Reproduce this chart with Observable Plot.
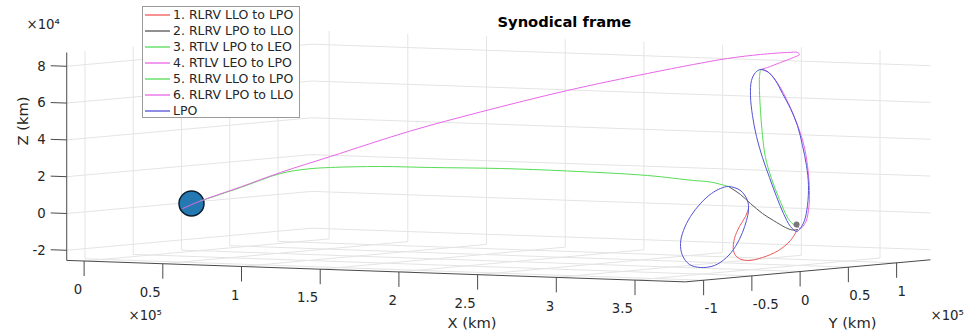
<!DOCTYPE html>
<html><head><meta charset="utf-8">
<script src="https://cdn.jsdelivr.net/npm/d3@7"></script>
<script src="https://cdn.jsdelivr.net/npm/@observablehq/plot@0.6"></script>
<style>
body{margin:0;background:#fff;}
#wrap{position:relative;width:968px;height:330px;font-family:"DejaVu Sans",sans-serif;}
#legend{position:absolute;left:142px;top:6px;width:158px;height:112px;border:1px solid #9a9a9a;background:#fff;box-sizing:border-box;}
.row{position:relative;height:16px;line-height:16px;font-size:12.5px;color:#262626;white-space:nowrap;padding-left:30px;}
.sw{position:absolute;left:2px;top:7px;width:25px;height:2px;opacity:0.65;}
</style></head>
<body><div id="wrap"><div id="chart"></div><div id="legend"></div></div>
<script>
// ---------- data (km, synodic frame) ----------
const legendLabels = ["1. RLRV LLO to LPO","2. RLRV LPO to LLO","3. RTLV LPO to LEO","4. RTLV LEO to LPO","5. RLRV LLO to LPO","6. RLRV LPO to LLO","LPO"];
const seriesColors = ["#f25757","#555555","#55dd55","#e866e8","#55dd55","#e866e8","#5252d6"];

const earthCenter = [-4671, 0, 0];
const moonCenter = [379729, 0, 0];

const traj1 = [[380322,0,-2707],[375875,0,-8821],[368251,0,-14479],[358086,0,-18588],[348556,0,-20501],[342202,0,-19060],[339661,0,-15327],[340296,0,-8788],[343473,0,-2174],[347285,0,3375],[349191,0,7783]];
const traj2 = [[336485,0,19360],[344108,0,15240],[350462,0,10533],[358086,0,5326],[365074,0,1728],[372698,0,-1848],[377146,0,-3076],[380322,0,-2707]];
const traj3 = [[336485,0,19360],[325051,0,21468],[314251,0,21963],[285027,0,23811],[234203,0,24751],[191638,0,24843],[147166,0,24072],[115400,0,23669],[83637,0,22186],[69025,0,20936],[51872,0,17979],[26460,0,9615],[1048,0,1527]];
const traj4 = [[-6671,-5800,-2500],[1048,0,1527],[24008,4000,9626],[46352,9000,17936],[74438,15000,27175],[118522,26000,41828],[156862,36000,52818],[204160,49000,65296],[247017,62000,75193],[271337,70000,80422],[288642,77000,83867],[305319,84000,86205],[318793,90000,87411],[323920,92000,87471],[326417,90000,86547],[331798,75000,85786],[338869,50000,84460],[347776,22000,83335],[356815,0,83553]];
const traj5 = [[380322,0,-1620],[375240,0,2033],[368886,0,13256],[363803,0,24517],[359992,0,35822],[358086,0,47719],[356815,0,61269],[356180,0,72122],[356180,0,79731],[356815,0,83553]];
const traj6 = [[356815,0,83553],[361898,0,82074],[368251,0,75742],[374604,0,65600],[379687,0,55426],[384134,0,44143],[386675,0,32262],[387946,0,18712],[387311,0,7826],[385405,0,1245],[382228,0,-2109],[380640,0,-1342]];
const lpoNRHO = [[356815,0,83553],[361262,0,82596],[366345,0,77856],[370792,0,70927],[375875,0,62921],[380322,0,53818],[383499,0,43040],[386040,0,32246],[387311,0,21414],[386675,0,10522],[384769,0,2315],[381593,0,-2669],[379687,0,-3815],[375875,0,-1212],[371427,0,5723],[366980,0,14832],[362533,0,25023],[358086,0,35762],[354274,0,47062],[351733,0,58399],[350462,0,69231],[351097,0,77405],[353639,0,81829]];
const lpoHalo = [[336485,0,19360],[344108,0,17414],[348556,0,12109],[349191,0,6696],[347920,0,1223],[345379,0,-5375],[340932,0,-13115],[335214,0,-19267],[327591,0,-23838],[318696,0,-25191],[311708,0,-23767],[307261,0,-19006],[305990,0,-12522],[307896,0,-5402],[312343,0,2337],[318696,0,9593],[325684,0,15234],[331402,0,18120]];

const xLim = [-11042, 382000];
const yLim = [-118900, 135000];
const zLim = [-25500, 87500];
const xTickVals = [0,50000,100000,150000,200000,250000,300000,350000];
const xTickLabels = ["0","0.5","1","1.5","2","2.5","3","3.5"];
const yTickVals = [-100000,-50000,0,50000,100000];
const yTickLabels = ["-1","-0.5","0","0.5","1"];
const zTickVals = [-20000,0,20000,40000,60000,80000];
const zTickLabels = ["-2","0","2","4","6","8"];

// ---------- orthographic 3D view (screen units per km) ----------
const A = 1.574e-3, B = 0.965e-3, C = 5.46e-5, D = 8.7e-5, E = 1.84e-3;
const pu = p => A*p[0] + B*p[1];
const pv = p => E*p[2] + D*p[1] - C*p[0];
const W = 968, H = 330, OX = 198.35, OY = 203.25;

const [x0,x1] = xLim, [y0,y1] = yLim, [z0,z1] = zLim;
const grid = [];
for (const X of xTickVals) { grid.push([[X,y1,z0],[X,y1,z1]]); grid.push([[X,y0,z0],[X,y1,z0]]); }
for (const Y of yTickVals) { grid.push([[x0,Y,z0],[x0,Y,z1]]); grid.push([[x0,Y,z0],[x1,Y,z0]]); }
for (const Z of zTickVals) { grid.push([[x0,y1,Z],[x1,y1,Z]]); grid.push([[x0,y0,Z],[x0,y1,Z]]); }
const axes = [[[x0,y0,z0],[x1,y0,z0]],[[x1,y0,z0],[x1,y1,z0]],[[x0,y0,z0],[x0,y0,z1]]];
const tickLenZ = 15/E, tickLenX = 16/A;
const ticks = [
  ...xTickVals.map(X => [[X,y0,z0],[X,y0,z0-tickLenZ]]),
  ...yTickVals.map(Y => [[x1,Y,z0],[x1,Y,z0-tickLenZ]]),
  ...zTickVals.map(Z => [[x0,y0,Z],[x0-tickLenX,y0,Z]])
];
const seg = (data, o) => Plot.link(data, {x1: s=>pu(s[0]), y1: s=>pv(s[0]), x2: s=>pu(s[1]), y2: s=>pv(s[1]), ...o});
const trajLine = (data, i, curve="catmull-rom") => Plot.line(data, {x: pu, y: pv, stroke: seriesColors[i], strokeWidth: 1, curve});
const tc = "#262626";

const chart = Plot.plot({
  width: W, height: H, margin: 0,
  x: {domain: [-OX, W-OX], axis: null},
  y: {domain: [OY-H, OY], axis: null},
  style: {fontFamily: "DejaVu Sans, sans-serif", fontSize: "13.3px", color: tc, background: "#fff"},
  marks: [
    seg(grid, {stroke: "#e4e4e4", strokeWidth: 1}),
    seg(axes, {stroke: "#4a4a4a", strokeWidth: 1}),
    seg(ticks, {stroke: "#4a4a4a", strokeWidth: 1}),
    Plot.text(xTickVals, {x: v=>pu([v,y0,z0]), y: v=>pv([v,y0,z0]), text: (v,i)=>xTickLabels[i], textAnchor: "end", dx: -2, dy: 29, fill: tc}),
    Plot.text(yTickVals, {x: v=>pu([x1,v,z0]), y: v=>pv([x1,v,z0]), text: (v,i)=>yTickLabels[i], textAnchor: "start", dx: 1, dy: 29, fill: tc}),
    Plot.text(zTickVals, {x: v=>pu([x0,y0,v]), y: v=>pv([x0,y0,v]), text: (v,i)=>zTickLabels[i], textAnchor: "end", dx: -21, dy: 0, fill: tc}),
    Plot.text(["×10⁴"], {frameAnchor: "top-left", dx: 26, dy: 19, textAnchor: "start", fill: tc}),
    Plot.text(["×10⁵"], {frameAnchor: "top-left", dx: 128, dy: 310, textAnchor: "start", fill: tc}),
    Plot.text(["×10⁵"], {frameAnchor: "top-left", dx: 930, dy: 310, textAnchor: "start", fill: tc}),
    Plot.text(["X (km)"], {frameAnchor: "top-left", dx: 447, dy: 317, fontSize: 14.7, fill: tc}),
    Plot.text(["Y (km)"], {frameAnchor: "top-left", dx: 828, dy: 317, fontSize: 14.7, fill: tc}),
    Plot.text(["Z (km)"], {frameAnchor: "top-left", dx: 17, dy: 145, rotate: -90, fontSize: 14.7, fill: tc}),
    Plot.text(["Synodical frame"], {frameAnchor: "top-left", dx: 497, dy: 16, fontSize: 14.7, fontWeight: "bold", fill: "#000"}),
    Plot.dot([earthCenter], {x: pu, y: pv, r: 12.5, fill: "#2479b3", stroke: "#0b1e2e", strokeWidth: 1.5}),
    trajLine(traj1, 0), trajLine(traj2, 1), trajLine(traj3, 2), trajLine(traj4, 3),
    trajLine(traj5, 4), trajLine(traj6, 5),
    trajLine(lpoNRHO, 6, "catmull-rom-closed"), trajLine(lpoHalo, 6, "catmull-rom-closed"),
    Plot.dot([moonCenter], {x: pu, y: pv, r: 3, fill: "#777"})
  ]
});
document.getElementById("chart").appendChild(chart);

const lg = document.getElementById("legend");
legendLabels.forEach((lab, i) => {
  const row = document.createElement("div"); row.className = "row";
  const sw = document.createElement("span"); sw.className = "sw"; sw.style.background = seriesColors[i];
  row.appendChild(sw); row.appendChild(document.createTextNode(lab));
  lg.appendChild(row);
});
</script></body></html>
